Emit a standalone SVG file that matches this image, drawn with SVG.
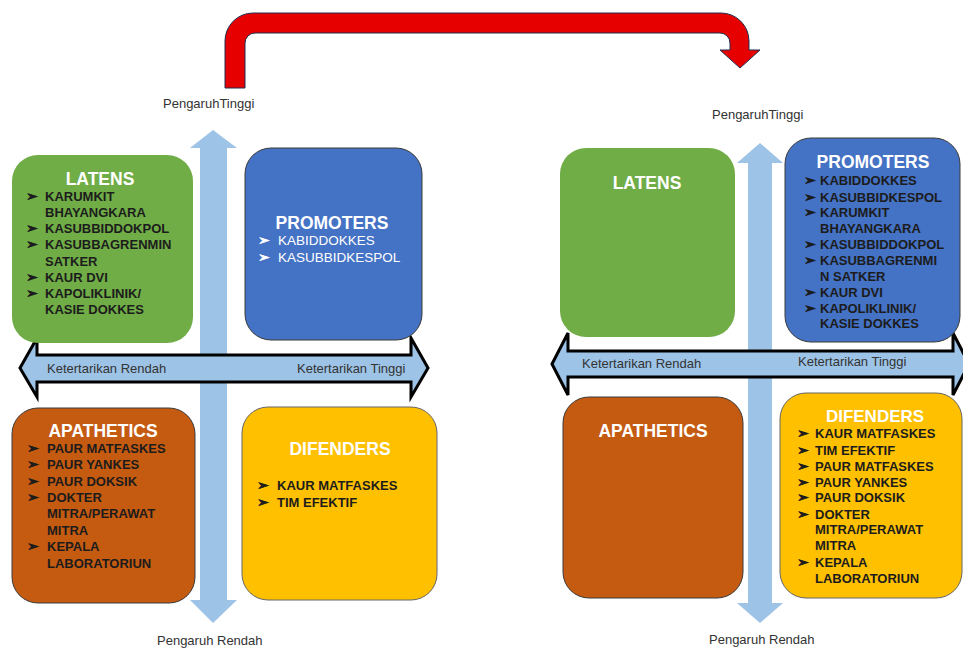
<svg xmlns="http://www.w3.org/2000/svg" width="963" height="648" viewBox="0 0 963 648">
<style>
.title{font-family:"Liberation Sans",Arial,sans-serif;font-weight:bold;font-size:17.5px;fill:#fff;text-anchor:middle}
.it{font-family:"Liberation Sans",Arial,sans-serif;font-weight:bold;font-size:13px;fill:#1c1c1c}
.itw{font-family:"Liberation Sans",Arial,sans-serif;font-size:13.5px;fill:#fff}
.bl{font-family:"DejaVu Sans",sans-serif;font-size:14px;fill:#1c1c1c;stroke:#1c1c1c;stroke-width:0.8}
.blw{font-family:"DejaVu Sans",sans-serif;font-size:14px;fill:#fff;stroke:#fff;stroke-width:0.6}
.lbl{font-family:"Liberation Sans",Arial,sans-serif;font-size:13px;fill:#333}
.varrow{fill:#9DC3E6}
.harrow{fill:#9DC3E6;stroke:#000;stroke-width:3;stroke-linejoin:miter}
.green{fill:#70AD47}
.blue{fill:#4472C4;stroke:#3a3a3a;stroke-width:1}
.orange{fill:#C55A11;stroke:#3a3a3a;stroke-width:1}
.yellow{fill:#FFC000;stroke:#666;stroke-width:1}
</style>

<g id="connectors">
  <path id="transition-arrow" d="M225,88 L225,41 A28,28 0 0 1 253,13 L721,13 A28,28 0 0 1 749,41 L749,50 L760,50 L740,68 L720,50 L730,50 L730,43 A10,10 0 0 0 720,33 L255,33 A10,10 0 0 0 245,43 L245,88 Z" fill="#E60000" stroke="#1F2F50" stroke-width="1"/>
  <path class="varrow" d="M213,130 L237,148 L227,148 L227,600 L237,600 L213,623 L190,600 L200,600 L200,148 L190,148 Z"/>
  <path class="harrow" d="M20,368 L37,338 L37,355 L411,355 L411,338 L428,368 L411,397 L411,382 L37,382 L37,397 Z"/>
  <path class="varrow" d="M760,143 L783,163 L772,163 L772,603 L783,603 L760,623 L737,603 L748,603 L748,163 L737,163 Z"/>
  <path class="harrow" d="M552,364 L568,333 L568,351 L953,351 L953,333 L969,364 L953,395 L953,377 L568,377 L568,395 Z"/>
</g>

<g id="axis-labels">
  <text class="lbl" x="163" y="108">PengaruhTinggi</text>
  <text class="lbl" x="157" y="645">Pengaruh Rendah</text>
  <text class="lbl" x="47" y="373">Ketertarikan Rendah</text>
  <text class="lbl" x="297" y="373">Ketertarikan Tinggi</text>
  <text class="lbl" x="712" y="119">PengaruhTinggi</text>
  <text class="lbl" x="709" y="644">Pengaruh Rendah</text>
  <text class="lbl" x="582" y="368">Ketertarikan Rendah</text>
  <text class="lbl" x="798" y="366">Ketertarikan Tinggi</text>
</g>

<g id="latens-left">
  <rect class="green" x="12" y="155" width="181" height="188" rx="26"/>
  <text class="title" x="100" y="185">LATENS</text>
  <text class="bl" x="26" y="201">➢</text><text class="it" x="45" y="201">KARUMKIT</text>
  <text class="it" x="45" y="217">BHAYANGKARA</text>
  <text class="bl" x="26" y="233">➢</text><text class="it" x="45" y="233">KASUBBIDDOKPOL</text>
  <text class="bl" x="26" y="249">➢</text><text class="it" x="45" y="249">KASUBBAGRENMIN</text>
  <text class="it" x="45" y="266">SATKER</text>
  <text class="bl" x="26" y="282">➢</text><text class="it" x="45" y="282">KAUR DVI</text>
  <text class="bl" x="26" y="298">➢</text><text class="it" x="45" y="298">KAPOLIKLINIK/</text>
  <text class="it" x="45" y="314">KASIE DOKKES</text>
</g>

<g id="promoters-left">
  <rect class="blue" x="245" y="148" width="177" height="192" rx="26"/>
  <text class="title" x="332" y="229">PROMOTERS</text>
  <text class="blw" x="258" y="245">➢</text><text class="itw" x="278" y="245">KABIDDOKKES</text>
  <text class="blw" x="258" y="262">➢</text><text class="itw" x="278" y="262">KASUBBIDKESPOL</text>
</g>

<g id="apathetics-left">
  <rect class="orange" x="12" y="408" width="183" height="195" rx="26"/>
  <text class="title" x="103" y="437">APATHETICS</text>
  <text class="bl" x="27" y="453">➢</text><text class="it" x="47" y="453">PAUR MATFASKES</text>
  <text class="bl" x="27" y="469">➢</text><text class="it" x="47" y="469">PAUR YANKES</text>
  <text class="bl" x="27" y="486">➢</text><text class="it" x="47" y="486">PAUR DOKSIK</text>
  <text class="bl" x="27" y="502">➢</text><text class="it" x="47" y="502">DOKTER</text>
  <text class="it" x="47" y="518">MITRA/PERAWAT</text>
  <text class="it" x="47" y="535">MITRA</text>
  <text class="bl" x="27" y="551">➢</text><text class="it" x="47" y="551">KEPALA</text>
  <text class="it" x="47" y="568">LABORATORIUN</text>
</g>

<g id="difenders-left">
  <rect class="yellow" x="242" y="407" width="195" height="193" rx="26"/>
  <text class="title" x="340" y="455">DIFENDERS</text>
  <text class="bl" x="257" y="490">➢</text><text class="it" x="277" y="490">KAUR MATFASKES</text>
  <text class="bl" x="257" y="507">➢</text><text class="it" x="277" y="507">TIM EFEKTIF</text>
</g>

<g id="latens-right">
  <rect class="green" x="560" y="148" width="175" height="189" rx="26"/>
  <text class="title" x="647" y="189">LATENS</text>
</g>

<g id="promoters-right">
  <rect class="blue" x="785" y="138" width="175" height="204" rx="26"/>
  <text class="title" x="873" y="168">PROMOTERS</text>
  <text class="bl" x="804" y="185">➢</text><text class="it" x="820" y="185">KABIDDOKKES</text>
  <text class="bl" x="804" y="202">➢</text><text class="it" x="820" y="202">KASUBBIDKESPOL</text>
  <text class="bl" x="804" y="217">➢</text><text class="it" x="820" y="217">KARUMKIT</text>
  <text class="it" x="820" y="233">BHAYANGKARA</text>
  <text class="bl" x="804" y="249">➢</text><text class="it" x="820" y="249">KASUBBIDDOKPOL</text>
  <text class="bl" x="804" y="265">➢</text><text class="it" x="820" y="265">KASUBBAGRENMI</text>
  <text class="it" x="820" y="281">N SATKER</text>
  <text class="bl" x="804" y="297">➢</text><text class="it" x="820" y="297">KAUR DVI</text>
  <text class="bl" x="804" y="313">➢</text><text class="it" x="820" y="313">KAPOLIKLINIK/</text>
  <text class="it" x="820" y="328">KASIE DOKKES</text>
</g>

<g id="apathetics-right">
  <rect class="orange" x="563" y="397" width="180" height="201" rx="26"/>
  <text class="title" x="653" y="437">APATHETICS</text>
</g>

<g id="difenders-right">
  <rect class="yellow" x="780" y="393" width="182" height="205" rx="26"/>
  <text class="title" x="875" y="422" style="font-size:17px">DIFENDERS</text>
  <text class="bl" x="797" y="438">➢</text><text class="it" x="815" y="438">KAUR MATFASKES</text>
  <text class="bl" x="797" y="455">➢</text><text class="it" x="815" y="455">TIM EFEKTIF</text>
  <text class="bl" x="797" y="471">➢</text><text class="it" x="815" y="471">PAUR MATFASKES</text>
  <text class="bl" x="797" y="487">➢</text><text class="it" x="815" y="487">PAUR YANKES</text>
  <text class="bl" x="797" y="502">➢</text><text class="it" x="815" y="502">PAUR DOKSIK</text>
  <text class="bl" x="797" y="519">➢</text><text class="it" x="815" y="519">DOKTER</text>
  <text class="it" x="815" y="534">MITRA/PERAWAT</text>
  <text class="it" x="815" y="550">MITRA</text>
  <text class="bl" x="797" y="567">➢</text><text class="it" x="815" y="567">KEPALA</text>
  <text class="it" x="815" y="583">LABORATORIUN</text>
</g>
</svg>
